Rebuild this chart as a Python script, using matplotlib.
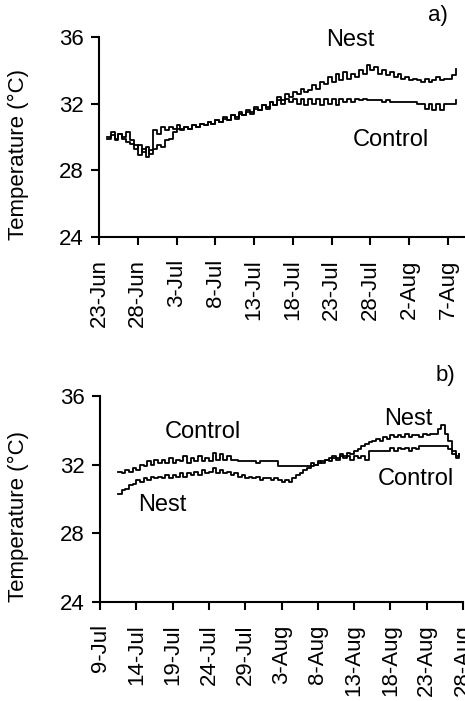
import numpy as np
import matplotlib
matplotlib.use("Agg")
import matplotlib.pyplot as plt

plt.rcParams['font.family'] = ['Liberation Sans', 'DejaVu Sans']

# ---------------- Panel a (days since 23-Jun) ----------------
a_tick_labels = ["23-Jun", "28-Jun", "3-Jul", "8-Jul", "13-Jul", "18-Jul",
                 "23-Jul", "28-Jul", "2-Aug", "7-Aug"]
a_start_day = 1.0
a_nest = [30.0, 30.3, 29.9, 30.2, 30.0, 30.3, 29.8, 29.5, 28.9, 29.3,
          28.8, 29.2, 30.4, 30.2, 30.6, 30.4, 30.6, 30.5, 30.7, 30.5,
          30.6, 30.5, 30.7, 30.6, 30.8, 30.7, 30.9, 30.8, 31.0, 30.9,
          31.1, 31.0, 31.3, 31.1, 31.4, 31.3, 31.5, 31.4, 31.7, 31.6,
          31.9, 31.8, 32.1, 31.9, 32.4, 32.2, 32.6, 32.4, 32.7, 32.6,
          32.9, 32.7, 32.8, 33.1, 32.9, 33.3, 33.2, 33.6, 33.3, 33.8,
          33.4, 33.9, 33.5, 33.8, 33.6, 34.0, 33.8, 34.3, 34.0, 34.2,
          33.8, 34.0, 33.7, 33.9, 33.6, 33.8, 33.5, 33.6, 33.4, 33.5,
          33.4, 33.3, 33.5, 33.3, 33.4, 33.6, 33.4, 33.5, 33.5, 33.7,
          34.1]
a_control = [29.9, 30.1, 29.8, 30.2, 29.9, 29.7, 29.6, 29.3, 29.5, 29.1,
             29.4, 29.0, 29.3, 29.5, 29.4, 29.8, 29.9, 30.3, 30.5, 30.4,
             30.6, 30.5, 30.7, 30.6, 30.8, 30.7, 30.9, 30.8, 31.0, 30.9,
             31.2, 31.0, 31.3, 31.2, 31.5, 31.3, 31.6, 31.5, 31.8, 31.6,
             31.9, 31.7, 32.1, 31.9, 32.2, 32.0, 32.3, 32.1, 32.3, 32.0,
             32.3, 31.9, 32.3, 32.0, 32.3, 31.9, 32.3, 32.0, 32.3, 31.9,
             32.3, 32.1, 32.3, 32.1, 32.3, 32.2, 32.3, 32.2, 32.2, 32.2,
             32.2, 32.1, 32.2, 32.1, 32.1, 32.1, 32.1, 32.1, 32.1, 32.1,
             32.0, 32.0, 31.7, 32.0, 31.6, 32.0, 31.6, 32.0, 32.0, 32.0,
             32.2]

# ---------------- Panel b (days since 9-Jul) ----------------
b_tick_labels = ["9-Jul", "14-Jul", "19-Jul", "24-Jul", "29-Jul", "3-Aug",
                 "8-Aug", "13-Aug", "18-Aug", "23-Aug", "28-Aug"]
b_start_day = 2.5
b_control = [31.6, 31.5, 31.7, 31.6, 31.8, 31.7, 32.0, 31.9, 32.2, 32.0,
             32.3, 32.1, 32.3, 32.1, 32.4, 32.1, 32.3, 32.2, 32.5, 32.1,
             32.4, 32.2, 32.5, 32.2, 32.4, 32.2, 32.7, 32.3, 32.6, 32.3,
             32.5, 32.3, 32.3, 32.2, 32.2, 32.2, 32.2, 32.2, 32.1, 32.2,
             32.2, 32.2, 32.2, 32.2, 31.9, 31.9, 31.9, 31.9, 31.9, 31.9,
             31.9, 31.9, 31.9, 32.1, 32.0, 32.2, 32.1, 32.3, 32.2, 32.4,
             32.3, 32.5, 32.4, 32.5, 32.3, 32.5, 32.4, 32.5, 32.3, 32.8,
             32.8, 32.8, 32.8, 32.8, 32.8, 33.0, 32.8, 33.0, 32.9, 33.0,
             32.8, 33.0, 32.9, 33.1, 33.1, 33.1, 33.1, 33.1, 33.1, 33.1,
             33.1, 32.9, 32.6, 32.5, 32.6]
b_nest = [30.3, 30.5, 30.6, 30.8, 30.9, 31.1, 31.0, 31.2, 31.1, 31.3,
          31.2, 31.3, 31.2, 31.4, 31.2, 31.4, 31.3, 31.5, 31.3, 31.5,
          31.4, 31.6, 31.4, 31.7, 31.5, 31.6, 31.8, 31.5, 31.7, 31.5,
          31.6, 31.4, 31.5, 31.3, 31.4, 31.2, 31.3, 31.2, 31.3, 31.1,
          31.2, 31.2, 31.1, 31.2, 31.1, 31.0, 31.1, 31.0, 31.2, 31.4,
          31.5, 31.7, 31.8, 31.9, 32.0, 32.1, 32.2, 32.3, 32.4, 32.5,
          32.4, 32.6, 32.5, 32.7, 32.6, 32.8, 32.9, 33.1, 33.2, 33.3,
          33.4, 33.5, 33.4, 33.6, 33.5, 33.7, 33.6, 33.7, 33.6, 33.8,
          33.6, 33.7, 33.7, 33.6, 33.8, 33.7, 33.8, 33.8, 34.1, 34.3,
          33.8, 33.4, 32.8, 32.4, 32.6]

y_ticks = [24, 28, 32, 36]

W, H = 465, 701
fig = plt.figure(figsize=(W / 100, H / 100), dpi=100)


def frac(x0, y_top, x1, y_bot):
    return [x0 / W, 1 - y_bot / H, (x1 - x0) / W, (y_bot - y_top) / H]


ax_a = fig.add_axes(frac(99, 37, 465, 237))
ax_b = fig.add_axes(frac(100, 396, 463, 602))


def style(ax, labels, xmax):
    ax.set_ylim(24, 36)
    ax.set_yticks(y_ticks)
    ax.set_xticks(np.arange(len(labels)) * 5)
    ax.set_xticklabels(labels, rotation=90, ha='center', va='top')
    ax.set_xlim(0, xmax)
    for s in ['top', 'right']:
        ax.spines[s].set_visible(False)
    for s in ['left', 'bottom']:
        ax.spines[s].set_linewidth(1.5)
    ax.tick_params(axis='both', direction='out', length=6, width=1.5,
                   labelsize=16, colors='black')
    ax.tick_params(axis='x', pad=10)
    ax.tick_params(axis='y', pad=5)


def draw(ax, start, vals):
    d = start + 0.5 * np.arange(len(vals))
    ax.plot(d, vals, color='black', lw=1.3, drawstyle='steps-post')


draw(ax_a, a_start_day, a_nest)
draw(ax_a, a_start_day, a_control)
style(ax_a, a_tick_labels, 47.2)
ax_a.spines['bottom'].set_bounds(0, 47.2)

draw(ax_b, b_start_day, b_control)
draw(ax_b, b_start_day, b_nest)
style(ax_b, b_tick_labels, 50)


def ftext(x, y, s, **kw):
    fig.text(x / W, 1 - y / H, s, ha='center', va='center', **kw)


ftext(18, 155, "Temperature (°C)", rotation=90, fontsize=16)
ftext(18, 517, "Temperature (°C)", rotation=90, fontsize=16)
ftext(438, 15, "a)", fontsize=16)
ftext(445, 375, "b)", fontsize=16)
ftext(350, 40, "Nest", fontsize=17)
ftext(391, 140, "Control", fontsize=17)
ftext(203, 432, "Control", fontsize=17)
ftext(162, 505, "Nest", fontsize=17)
ftext(408, 419, "Nest", fontsize=17)
ftext(416, 479, "Control", fontsize=17)

fig.savefig("out.png", dpi=100)
